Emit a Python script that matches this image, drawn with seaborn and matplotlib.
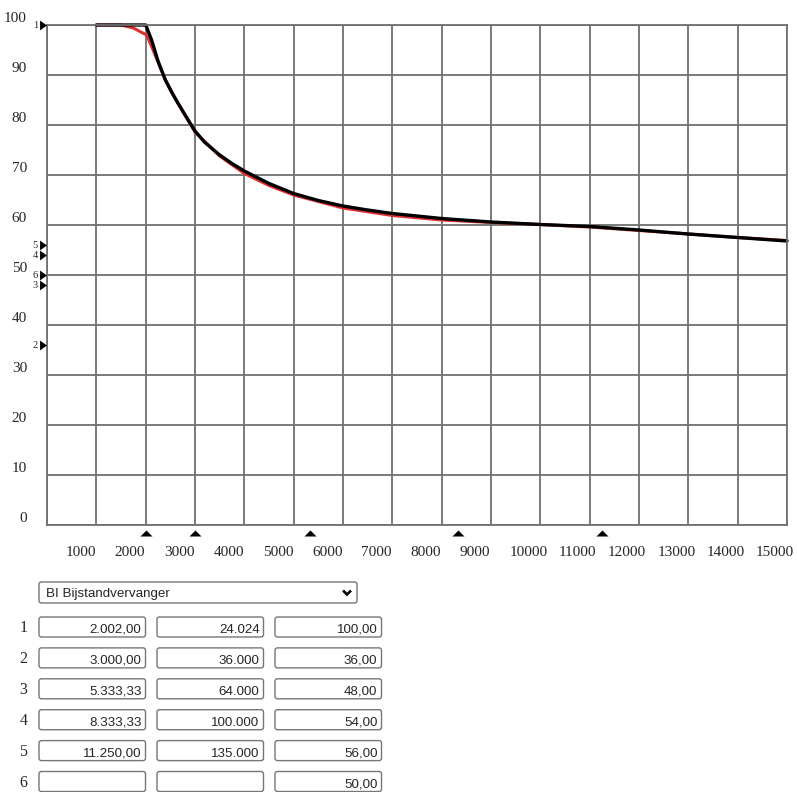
import matplotlib
matplotlib.use("Agg")
import matplotlib.pyplot as plt
from matplotlib.transforms import offset_copy
from matplotlib.patches import FancyBboxPatch
from matplotlib.lines import Line2D
import seaborn as sns
import pandas as pd

# ---------------- data ----------------
black_x = [1000, 2002, 2120, 2250, 2400, 2530, 2660, 2800, 3000, 3200, 3500, 3750, 4000,
           4500, 5000, 5500, 6000, 6500, 7000, 8000, 9000, 10000, 11000, 12000, 13000,
           14000, 15000]
black_y = [100, 100, 97.0, 92.8, 89.0, 86.5, 84.3, 82.0, 78.8, 76.5, 74.0, 72.3, 70.8,
           68.3, 66.3, 64.9, 63.8, 63.0, 62.3, 61.3, 60.6, 60.1, 59.7, 59.0, 58.2,
           57.5, 56.8]
red_x = [1000, 1500, 1750, 2020, 2150, 2400, 2660, 3000, 3500, 4000, 4500, 5000, 6000,
         7000, 8000, 9000, 10000, 11000, 12000, 13000, 14000, 15000]
red_y = [100, 100, 99.4, 98.0, 95.0, 89.0, 84.2, 78.6, 73.8, 70.3, 67.9, 66.0, 63.4,
         61.9, 61.0, 60.5, 60.1, 59.6, 58.9, 58.2, 57.5, 56.9]

x_ticks = list(range(0, 15001, 1000))
x_tick_labels = [str(v) for v in x_ticks[1:]]
y_ticks = list(range(0, 101, 10))

row_ids = ["1", "2", "3", "4", "5", "6"]
col_amount = ["2.002,00", "3.000,00", "5.333,33", "8.333,33", "11.250,00", ""]
col_year = ["24.024", "36.000", "64.000", "100.000", "135.000", ""]
col_pct = ["100,00", "36,00", "48,00", "54,00", "56,00", "50,00"]
bottom_markers = [2002, 3000, 5333.33, 8333.33, 11250]
left_markers = [100, 36, 48, 54, 56, 50]
dropdown_label = "BI Bijstandvervanger"

# ---------------- figure ----------------
sns.set_style("white")
plt.rcParams["font.family"] = ["Liberation Serif", "DejaVu Serif"]

W, H = 797, 792
fig = plt.figure(figsize=(W / 100, H / 100), dpi=100)

def fx(x):
    return x / W

def fy(y):
    return 1 - y / H

L, R, T, B = 47, 787, 25, 525
ax = fig.add_axes([fx(L), fy(B), (R - L) / W, (B - T) / H])
ax.set_xlim(0, 15000)
ax.set_ylim(0, 100)
ax.set_xticks(x_ticks)
ax.set_yticks(y_ticks)
ax.set_xticklabels([])
ax.set_yticklabels([])
ax.tick_params(length=0)
grid_c = "#707070"
ax.grid(True, color=grid_c, lw=1.3)
for s in ax.spines.values():
    s.set_visible(True)
    s.set_color(grid_c)
    s.set_linewidth(1.3)

df_red = pd.DataFrame({"x": red_x, "y": red_y})
df_black = pd.DataFrame({"x": black_x, "y": black_y})
sns.lineplot(data=df_red, x="x", y="y", ax=ax, color="#e03030", lw=2.2, sort=False)
sns.lineplot(data=df_black, x="x", y="y", ax=ax, color="black", lw=2.4, sort=False)
for ln in ax.lines:
    ln.set_clip_on(False)
    ln.set_solid_joinstyle("round")
ax.set_xlabel("")
ax.set_ylabel("")

# tick labels
tr_y = offset_copy(ax.transData, fig, x=-20, y=6, units="dots")
for v in y_ticks:
    ax.text(0, v, str(v), transform=tr_y, ha="right", va="center", fontsize=11)
tr_x = offset_copy(ax.transData, fig, x=-31, y=-28, units="dots")
for v, lab in zip(x_ticks[1:], x_tick_labels):
    ax.text(v, 0, lab, transform=tr_x, ha="left", va="center", fontsize=11)

# bottom markers
tri_up = [(-6, 0), (6, 0), (0, 6)]
tr_b = offset_copy(ax.transData, fig, x=0, y=-11, units="dots")
ax.scatter(bottom_markers, [0] * len(bottom_markers), marker=tri_up, s=75,
           color="black", transform=tr_b, clip_on=False, zorder=5, linewidths=0)

# left markers
tri_right = [(-3.5, -5), (-3.5, 5), (3.5, 0)]
tr_l = offset_copy(ax.transData, fig, x=-4.5, y=0, units="dots")
ax.scatter([0] * len(left_markers), left_markers, marker=tri_right, s=50,
           color="black", transform=tr_l, clip_on=False, zorder=5, linewidths=0)
tr_ll = offset_copy(ax.transData, fig, x=-9, y=0, units="dots")
for i, v in enumerate(left_markers):
    ax.text(0, v, str(i + 1), transform=tr_ll, ha="right", va="center", fontsize=7.5)

# ---------------- form ----------------
box_c = "#767676"
sans = ["Liberation Sans", "DejaVu Sans"]

def box(x0, y0, x1, y1):
    p = FancyBboxPatch((fx(x0), fy(y1)), fx(x1) - fx(x0), fy(y0) - fy(y1),
                       boxstyle="round,pad=0,rounding_size=0.003",
                       transform=fig.transFigure, facecolor="white",
                       edgecolor=box_c, lw=1.0)
    fig.add_artist(p)

# dropdown
box(39, 582, 357, 603)
fig.text(fx(46), fy(597), dropdown_label, family=sans, fontsize=9.6,
         ha="left", va="baseline")
fig.add_artist(Line2D([fx(343), fx(347), fx(351)], [fy(590.5), fy(594.5), fy(590.5)],
                      transform=fig.transFigure, color="black", lw=1.9,
                      solid_capstyle="butt", solid_joinstyle="miter"))

cols = [(39, 145.5, col_amount), (157, 263.5, col_year), (275, 381.5, col_pct)]
for i, rid in enumerate(row_ids):
    y0 = 617 + 30.9 * i
    y1 = y0 + 20
    fig.text(fx(23.5), fy(y0 + 15.5), rid, fontsize=11.5, ha="center", va="baseline")
    for x0, x1, vals in cols:
        box(x0, y0, x1, y1)
        if vals[i]:
            fig.text(fx(x1 - 4), fy(y0 + 16), vals[i], family=sans, fontsize=9.6,
                     ha="right", va="baseline")

fig.savefig("out.png", dpi=100)
